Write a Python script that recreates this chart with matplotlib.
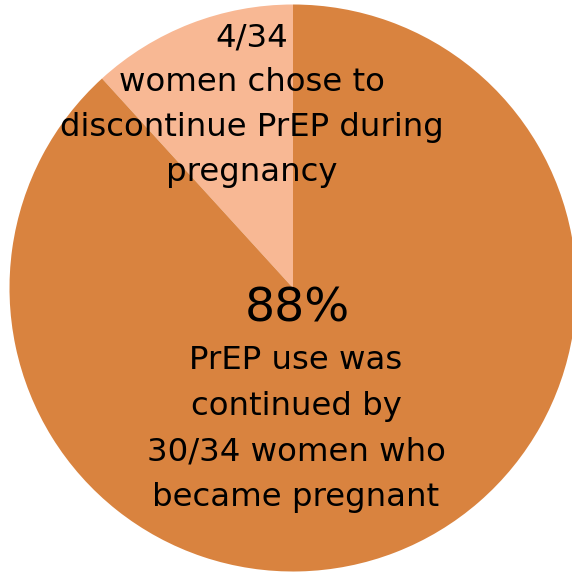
import matplotlib.pyplot as plt

# PrEP continuation during pregnancy
groups = ['discontinued', 'continued']
counts = [4, 30]
total = 34
colors = ['#F8B894', '#D9833F']

pct_cont = round(100 * counts[1] / total)

fig = plt.figure(figsize=(5.72, 5.72), dpi=100)
ax = fig.add_axes([0, 0, 1, 1])
ax.pie(counts, colors=colors, startangle=90, counterclock=True, radius=1,
       wedgeprops=dict(linewidth=0))

# circle centre at about (293, 288) px, radius ~283.5 px
r = 283.5
ax.set_xlim(-293 / r, (572 - 293) / r)
ax.set_ylim(-(572 - 288) / r, 288 / r)
ax.set_aspect('equal')
ax.axis('off')

ax.text((252 - 293) / r, (288 - 105) / r,
        f'{counts[0]}/{total}\nwomen chose to\ndiscontinue PrEP during\npregnancy',
        ha='center', va='center', fontsize=23.3, linespacing=1.58,
        family='DejaVu Sans')
ax.text((297 - 293) / r, (288 - 309) / r, f'{pct_cont}%',
        ha='center', va='center', fontsize=34, family='DejaVu Sans')
ax.text((296 - 293) / r, (288 - 429) / r,
        f'PrEP use was\ncontinued by\n{counts[1]}/{total} women who\nbecame pregnant',
        ha='center', va='center', fontsize=23.3, linespacing=1.6,
        family='DejaVu Sans')

fig.savefig('out.png', dpi=100)
